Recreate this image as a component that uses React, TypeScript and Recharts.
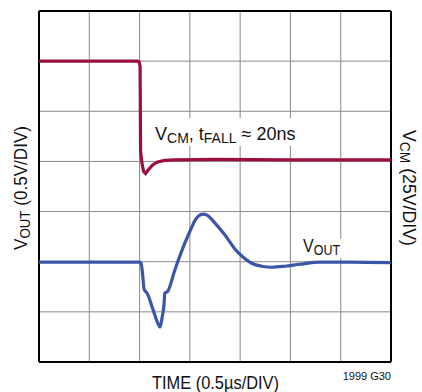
import React from "react";
import { LineChart, Line, XAxis, YAxis, CartesianGrid, ReferenceLine } from "recharts";

const gridTicks = [0, 1, 2, 3, 4, 5, 6, 7];

const vcmX = [0, 1.96, 1.99, 2.01, 2.02, 2.05, 2.08, 2.12, 2.18, 2.26, 2.36, 2.5, 2.7, 3.5, 5, 7];
const vcmY = [6.0, 6.0, 5.99, 5.9, 4.2, 3.95, 3.8, 3.76, 3.84, 3.93, 3.99, 4.02, 4.03, 4.04, 4.03, 4.03];

const voutX = [0, 2.0, 2.03, 2.06, 2.09, 2.15, 2.27, 2.36, 2.41, 2.45, 2.49, 2.5, 2.56, 2.7, 2.9, 3.02, 3.1, 3.17, 3.26, 3.34, 3.42, 3.5, 3.7, 3.9, 4.06, 4.23, 4.43, 4.63, 4.89, 5.19, 5.59, 6.2, 7];
const voutY = [1.99, 1.99, 1.97, 1.75, 1.45, 1.37, 1.04, 0.78, 0.7, 0.9, 1.2, 1.37, 1.41, 1.83, 2.37, 2.65, 2.82, 2.91, 2.95, 2.93, 2.86, 2.77, 2.53, 2.25, 2.09, 1.97, 1.91, 1.89, 1.91, 1.95, 1.99, 1.99, 1.98];

const vcmData = vcmX.map((x, i) => ({ x, y: vcmY[i] }));
const voutData = voutX.map((x, i) => ({ x, y: voutY[i] }));

const FONT = "'Liberation Sans Narrow', 'Arial Narrow', 'Liberation Sans', sans-serif";

export default function App() {
  return (
    <div style={{ position: "absolute", left: 0, top: 0, width: 422, height: 392, background: "#fff" }}>
      <LineChart width={422} height={392} margin={{ top: 11, right: 31, bottom: 30, left: 39 }}>
        <XAxis type="number" dataKey="x" domain={[0, 7]} ticks={gridTicks} hide allowDuplicatedCategory={false} />
        <YAxis type="number" dataKey="y" domain={[0, 7]} ticks={gridTicks} hide />
        <CartesianGrid stroke="#8a8a8a" strokeWidth={1} />
        <ReferenceLine x={0} stroke="#000" strokeWidth={2} />
        <ReferenceLine x={7} stroke="#000" strokeWidth={2} />
        <ReferenceLine y={0} stroke="#000" strokeWidth={2} />
        <ReferenceLine y={7} stroke="#000" strokeWidth={2} />
        <Line data={vcmData} dataKey="y" type="linear" stroke="#9c0f3c" strokeWidth={3.2} dot={false} isAnimationActive={false} />
        <Line data={voutData} dataKey="y" type="monotone" stroke="#3b55a8" strokeWidth={3.2} dot={false} isAnimationActive={false} />
      </LineChart>
      <svg width={422} height={392} style={{ position: "absolute", left: 0, top: 0, pointerEvents: "none" }}>
        <rect x={150} y={118} width={147} height={28} fill="#fff" />
        <rect x={300} y={239} width={45} height={19} fill="#fff" />
        <g fontFamily={FONT} fill="#111">
          <text x={155} y={140} fontSize={18}>
            V<tspan fontSize={14} dy={3}>CM</tspan>
            <tspan dy={-3}>, t</tspan>
            <tspan fontSize={14} dy={3}>FALL</tspan>
            <tspan dy={-3}> ≈ 20ns</tspan>
          </text>
          <text x={303} y={252} fontSize={18} textLength={37} lengthAdjust="spacingAndGlyphs">
            V<tspan fontSize={14} dy={3}>OUT</tspan>
          </text>
          <text x={152} y={389} fontSize={18} textLength={127} lengthAdjust="spacingAndGlyphs">TIME (0.5µs/DIV)</text>
          <text x={391} y={380} fontSize={11} textAnchor="end">1999 G30</text>
          <text transform="translate(27,250) rotate(-90)" fontSize={18} textLength={124} lengthAdjust="spacingAndGlyphs">
            V<tspan fontSize={14} dy={3}>OUT</tspan>
            <tspan dy={-3}> (0.5V/DIV)</tspan>
          </text>
          <text transform="translate(403,130) rotate(90)" fontSize={18} textLength={116} lengthAdjust="spacingAndGlyphs">
            V<tspan fontSize={14} dy={3}>CM</tspan>
            <tspan dy={-3}> (25V/DIV)</tspan>
          </text>
        </g>
      </svg>
    </div>
  );
}
